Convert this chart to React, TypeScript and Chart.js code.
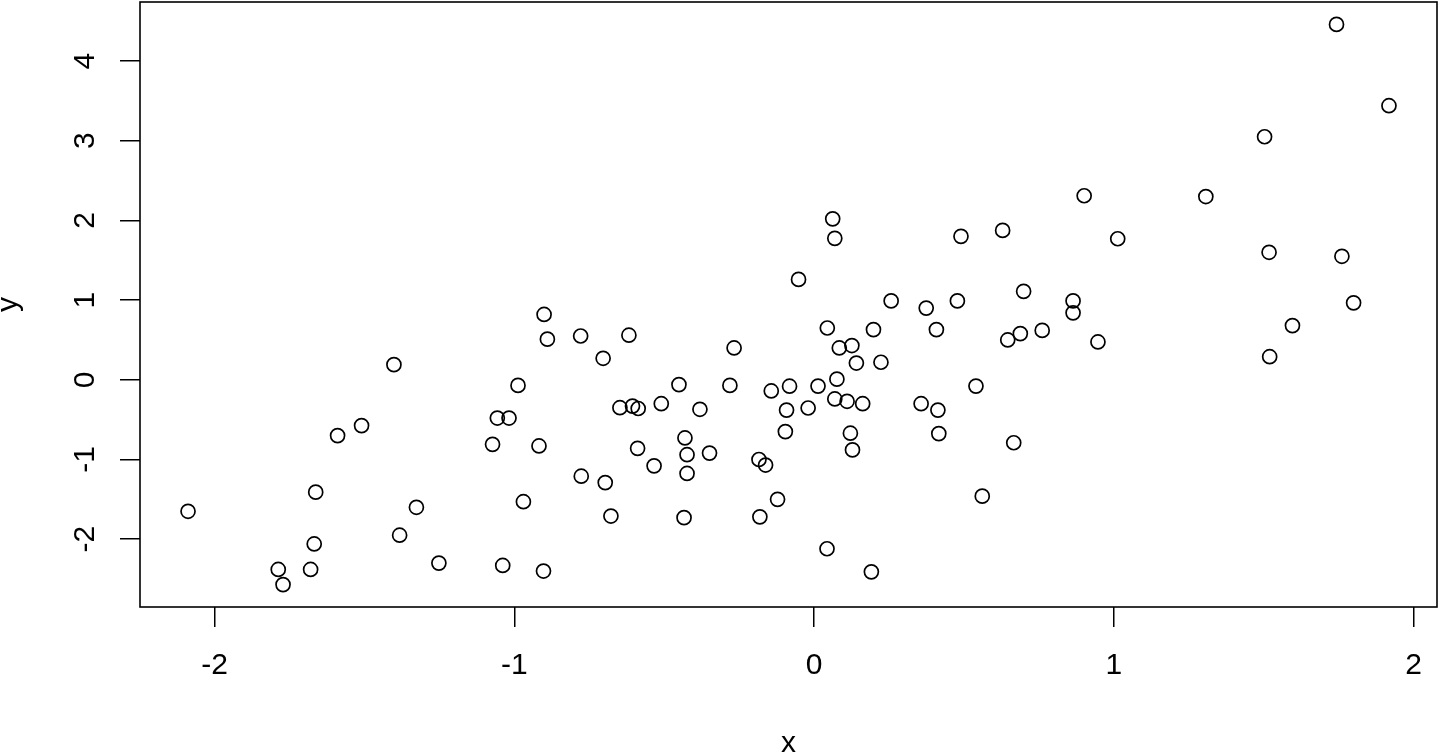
import React, { useEffect, useRef } from 'react';
import { Chart, registerables } from 'chart.js';

Chart.register(...registerables);

const xValues: number[] = [
  -0.052, 0.901, 0.062, 0.069, 0.49, 0.629, 1.013, 0.257, 0.374, 0.478,
  0.699, 0.864, 0.864, 1.743, 1.918, 1.503, 1.307, 1.518, 1.761, 1.8,
  1.596, 1.52, 0.044, 0.198, 0.408, 0.126, 0.084, 0.141, 0.223, 0.076,
  0.013, 0.54, 0.646, 0.688, 0.761, 0.947, -0.02, 0.069, 0.11, 0.162,
  0.357, 0.413, 0.121, 0.128, 0.416, 0.666, 0.561, 0.043, 0.191, -0.901,
  -0.89, -0.779, -0.618, -0.704, -0.267, -0.988, -0.451, -0.281, -0.143, -0.082,
  -0.092, -0.096, -1.057, -1.018, -0.648, -0.606, -0.587, -0.51, -0.381, -1.073,
  -0.918, -0.589, -0.534, -0.431, -0.424, -0.424, -0.349, -0.184, -0.162, -0.777,
  -0.697, -0.97, -0.678, -0.434, -0.181, -0.122, -1.039, -0.903, -1.402, -1.51,
  -1.59, -1.663, -2.089, -1.327, -1.383, -1.668, -1.252, -1.788, -1.68, -1.772,
];

const yValues: number[] = [
  1.26, 2.31, 2.02, 1.775, 1.8, 1.875, 1.77, 0.99, 0.9, 0.99,
  1.11, 0.99, 0.84, 4.46, 3.44, 3.05, 2.3, 1.6, 1.55, 0.966,
  0.68, 0.29, 0.65, 0.63, 0.63, 0.43, 0.4, 0.21, 0.22, 0.008,
  -0.079, -0.079, 0.5, 0.58, 0.62, 0.475, -0.354, -0.24, -0.27, -0.3,
  -0.3, -0.38, -0.67, -0.88, -0.675, -0.79, -1.46, -2.12, -2.41, 0.82,
  0.51, 0.55, 0.56, 0.27, 0.4, -0.07, -0.06, -0.07, -0.14, -0.08,
  -0.38, -0.65, -0.48, -0.48, -0.35, -0.33, -0.36, -0.3, -0.37, -0.81,
  -0.83, -0.86, -1.08, -0.73, -0.94, -1.175, -0.92, -1.0, -1.07, -1.21,
  -1.29, -1.53, -1.71, -1.73, -1.72, -1.5, -2.33, -2.4, 0.19, -0.575,
  -0.7, -1.41, -1.65, -1.6, -1.95, -2.06, -2.3, -2.38, -2.38, -2.57,
];

const xTickValues: number[] = [-2, -1, 0, 1, 2];
const yTickValues: number[] = [-2, -1, 0, 1, 2, 3, 4];
const xTitle = 'x';
const yTitle = 'y';

function rRange(v: number[]): [number, number] {
  const lo = Math.min(...v);
  const hi = Math.max(...v);
  const pad = (hi - lo) * 0.04;
  return [lo - pad, hi + pad];
}

const FONT = "'Liberation Sans', Arial, Helvetica, sans-serif";
const W = 1439;
const H = 754;

const boxPlugin = {
  id: 'rbox',
  afterDraw(chart: any) {
    const { ctx, chartArea: a } = chart;
    ctx.save();
    ctx.strokeStyle = '#000';
    ctx.lineWidth = 1.6;
    ctx.strokeRect(a.left, a.top, a.right - a.left, a.bottom - a.top);
    ctx.restore();
  },
};

export default function App() {
  const ref = useRef<HTMLCanvasElement | null>(null);

  useEffect(() => {
    if (!ref.current) return;
    const [xMin, xMax] = rRange(xValues);
    const [yMin, yMax] = rRange(yValues);
    const points = xValues.map((x, i) => ({ x, y: yValues[i] }));

    const chart = new Chart(ref.current, {
      type: 'scatter',
      data: {
        datasets: [
          {
            data: points,
            pointRadius: 7,
            pointHoverRadius: 7,
            pointBorderWidth: 1.7,
            pointBorderColor: '#000',
            pointBackgroundColor: 'rgba(0,0,0,0)',
            showLine: false,
          },
        ],
      },
      options: {
        responsive: false,
        animation: false,
        events: [],
        layout: { autoPadding: false, padding: { left: 0, right: 2, top: 2, bottom: 0 } },
        plugins: {
          legend: { display: false },
          tooltip: { enabled: false },
        },
        scales: {
          x: {
            type: 'linear',
            min: xMin,
            max: xMax,
            afterBuildTicks: (axis: any) => {
              axis.ticks = xTickValues.map((v) => ({ value: v }));
            },
            afterFit: (axis: any) => {
              axis.height = 147;
              axis.paddingLeft = 0;
              axis.paddingRight = 0;
              axis.paddingTop = 0;
              axis.paddingBottom = 0;
            },
            border: { display: false },
            grid: {
              drawOnChartArea: false,
              drawTicks: true,
              tickLength: 20,
              color: '#000',
              lineWidth: 1.5,
            },
            ticks: {
              autoSkip: false,
              maxRotation: 0,
              minRotation: 0,
              padding: 21,
              color: '#000',
              font: { family: FONT, size: 30 },
              callback: (v: any) => String(v),
            },
            title: {
              display: true,
              text: xTitle,
              color: '#000',
              font: { family: FONT, size: 30 },
              padding: { top: 0, bottom: -7.5 },
            },
          },
          y: {
            type: 'linear',
            min: yMin,
            max: yMax,
            afterBuildTicks: (axis: any) => {
              axis.ticks = yTickValues.map((v) => ({ value: v }));
            },
            afterFit: (axis: any) => {
              axis.width = 140;
              axis.paddingLeft = 0;
              axis.paddingRight = 0;
              axis.paddingTop = 0;
              axis.paddingBottom = 0;
            },
            border: { display: false },
            grid: {
              drawOnChartArea: false,
              drawTicks: true,
              tickLength: 20,
              color: '#000',
              lineWidth: 1.5,
            },
            ticks: {
              autoSkip: false,
              minRotation: 90,
              maxRotation: 90,
              crossAlign: 'center',
              padding: 21,
              color: '#000',
              font: { family: FONT, size: 30 },
              callback: (v: any) => String(v),
            },
            title: {
              display: true,
              text: yTitle,
              color: '#000',
              font: { family: FONT, size: 30 },
              padding: { top: -9, bottom: 0 },
            },
          },
        },
      },
      plugins: [boxPlugin],
    } as any);

    return () => chart.destroy();
  }, []);

  return (
    <div style={{ position: 'fixed', left: 0, top: 0, width: W, height: H, background: '#fff' }}>
      <canvas ref={ref} width={W} height={H} style={{ display: 'block', width: W, height: H }} />
    </div>
  );
}
